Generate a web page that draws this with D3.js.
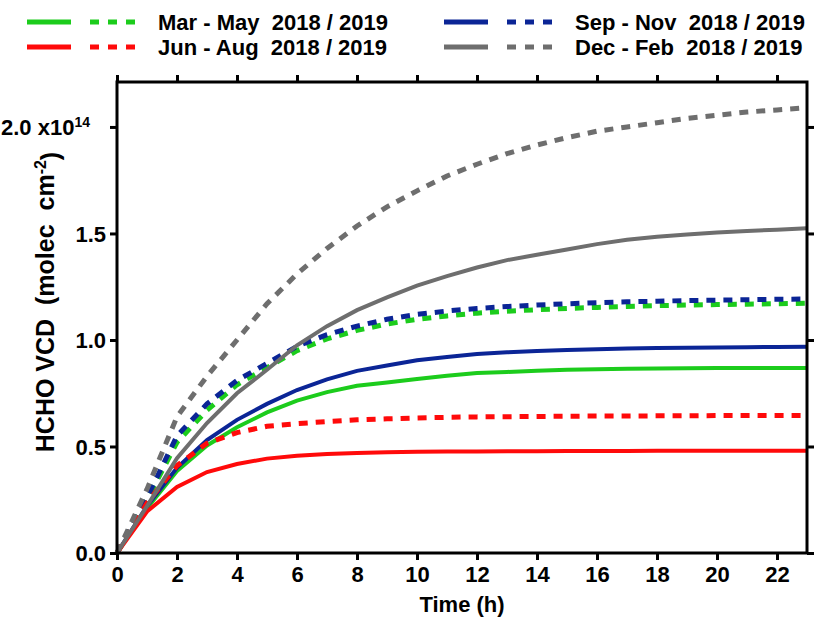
<!DOCTYPE html>
<meta charset="utf-8">
<head>
  <title>HCHO VCD diurnal build-up</title>
</head>
<style>
body { margin: 0; background: #fff; }
svg text { font-family: "Liberation Sans", Arial, sans-serif; font-weight: bold; fill: #000; white-space: pre; }
.domain { display: none; }
</style>
<body>
  <svg width="822" height="624"></svg>
  <script src="https://cdn.jsdelivr.net/npm/d3@7"></script>
  <script>
// hours after start
var hours = d3.range(0, 24);

// values in 1e14 molec cm-2
var marMay2018 = [0, 0.21, 0.385, 0.505, 0.59, 0.66, 0.715, 0.755, 0.785, 0.80, 0.817, 0.832, 0.845, 0.85, 0.855, 0.86, 0.863, 0.865, 0.866, 0.867, 0.868, 0.868, 0.869, 0.869];
var marMay2019 = [0, 0.25, 0.52, 0.67, 0.79, 0.87, 0.95, 1.005, 1.045, 1.075, 1.097, 1.113, 1.126, 1.135, 1.142, 1.148, 1.153, 1.157, 1.161, 1.164, 1.166, 1.168, 1.17, 1.172];
var junAug2018 = [0, 0.195, 0.31, 0.38, 0.418, 0.443, 0.457, 0.465, 0.47, 0.473, 0.475, 0.476, 0.477, 0.478, 0.478, 0.479, 0.479, 0.479, 0.48, 0.48, 0.48, 0.48, 0.48, 0.48];
var junAug2019 = [0, 0.235, 0.41, 0.515, 0.565, 0.595, 0.607, 0.617, 0.625, 0.63, 0.634, 0.637, 0.639, 0.64, 0.641, 0.642, 0.643, 0.643, 0.644, 0.644, 0.645, 0.645, 0.645, 0.645];
var sepNov2018 = [0, 0.22, 0.40, 0.53, 0.625, 0.70, 0.765, 0.815, 0.855, 0.88, 0.905, 0.92, 0.934, 0.942, 0.948, 0.953, 0.957, 0.96, 0.962, 0.964, 0.965, 0.966, 0.967, 0.968];
var sepNov2019 = [0, 0.26, 0.55, 0.70, 0.81, 0.89, 0.97, 1.025, 1.065, 1.097, 1.12, 1.136, 1.148, 1.157, 1.164, 1.17, 1.175, 1.179, 1.182, 1.185, 1.187, 1.189, 1.191, 1.192];
var decFeb2018 = [0, 0.22, 0.445, 0.61, 0.75, 0.86, 0.975, 1.065, 1.14, 1.20, 1.255, 1.30, 1.34, 1.375, 1.40, 1.425, 1.45, 1.47, 1.485, 1.495, 1.505, 1.512, 1.518, 1.525];
var decFeb2019 = [0, 0.30, 0.64, 0.83, 1.00, 1.17, 1.31, 1.43, 1.535, 1.625, 1.70, 1.77, 1.825, 1.875, 1.915, 1.95, 1.98, 2.00, 2.02, 2.04, 2.055, 2.07, 2.08, 2.09];

var seasons = ['Mar - May', 'Jun - Aug', 'Sep - Nov', 'Dec - Feb'];
var colors = ['#1ccc1c', '#ff0a0a', '#0b2596', '#6e6e6e'];

var xTicks = d3.range(0, 23, 2);
var yTicks = [0, 0.5, 1.0, 1.5, 2.0];

// draw order: solids first, then dashed, gray on top
var series = [
  { values: marMay2018, color: colors[0], dashed: false },
  { values: sepNov2018, color: colors[2], dashed: false },
  { values: junAug2018, color: colors[1], dashed: false },
  { values: marMay2019, color: colors[0], dashed: true },
  { values: sepNov2019, color: colors[2], dashed: true },
  { values: junAug2019, color: colors[1], dashed: true },
  { values: decFeb2018, color: colors[3], dashed: false },
  { values: decFeb2019, color: colors[3], dashed: true }
];

var plotL = 117, plotR = 807, plotT = 82, plotB = 553;

var x = d3.scaleLinear().domain([0, 23]).range([plotL, plotR]);
var y = d3.scaleLinear().domain([0, 2.211]).range([plotB, plotT]);

var svg = d3.select('svg');

var line = d3.line()
  .x(function(d, i) { return x(hours[i]); })
  .y(function(d) { return y(d); });

svg.append('g')
  .selectAll('path')
  .data(series)
  .enter()
  .append('path')
  .attr('d', function(d) { return line(d.values); })
  .attr('fill', 'none')
  .attr('stroke', function(d) { return d.color; })
  .attr('stroke-width', function(d) { return d.dashed ? 5 : 4; })
  .attr('stroke-dasharray', function(d) { return d.dashed ? '9,8' : null; });

// frame
svg.append('rect')
  .attr('x', plotL).attr('y', plotT)
  .attr('width', plotR - plotL).attr('height', plotB - plotT)
  .attr('fill', 'none').attr('stroke', '#000').attr('stroke-width', 3);

// axes
var gx = svg.append('g')
  .attr('transform', 'translate(0,' + plotB + ')')
  .call(d3.axisBottom(x).tickValues(xTicks).tickSize(7).tickPadding(6).tickFormat(d3.format('d')));
svg.append('g')
  .attr('transform', 'translate(0,' + plotT + ')')
  .call(d3.axisTop(x).tickValues(xTicks).tickSize(7).tickFormat(''));
var gy = svg.append('g')
  .attr('transform', 'translate(' + plotL + ',0)')
  .call(d3.axisLeft(y).tickValues(yTicks).tickSize(7).tickPadding(4).tickFormat(d3.format('.1f')));
svg.append('g')
  .attr('transform', 'translate(' + plotR + ',0)')
  .call(d3.axisRight(y).tickValues(yTicks).tickSize(7).tickFormat(''));

svg.selectAll('.tick line').attr('stroke', '#000').attr('stroke-width', 3);
gx.selectAll('.tick text').style('font-size', '22px');
gy.selectAll('.tick text').style('font-size', '22px').attr('dy', '0.35em');

// "2.0 x10^14" label
gy.selectAll('.tick text')
  .filter(function(d) { return d === 2.0; })
  .each(function() {
    var t = d3.select(this);
    t.text('2.0 x10');
    t.attr('dx', '-16');
    t.append('tspan').attr('dy', '-0.55em').style('font-size', '14px').text('14');
  });

// axis titles
svg.append('text')
  .attr('x', (plotL + plotR) / 2).attr('y', 612)
  .attr('text-anchor', 'middle')
  .style('font-size', '22px')
  .text('Time (h)');

var yt = svg.append('text')
  .attr('transform', 'translate(54,302) rotate(-90)')
  .attr('text-anchor', 'middle')
  .style('font-size', '25px');
yt.append('tspan').text('HCHO VCD  (molec  cm');
yt.append('tspan').attr('dy', '-0.5em').style('font-size', '16px').text('-2');
yt.append('tspan').attr('dy', '0.5em').text(')');

// legend
var legendItems = seasons.map(function(s, i) {
  return { label: s + '  2018 / 2019', color: colors[i], col: Math.floor(i / 2), row: i % 2 };
});
var lg = svg.append('g')
  .selectAll('g')
  .data(legendItems)
  .enter()
  .append('g')
  .attr('transform', function(d) { return 'translate(' + (d.col ? 444 : 27) + ',' + (d.row ? 47 : 22) + ')'; });
lg.append('line')
  .attr('x1', 0).attr('x2', 44)
  .attr('stroke', function(d) { return d.color; })
  .attr('stroke-width', 5);
lg.append('line')
  .attr('x1', 63).attr('x2', 108)
  .attr('stroke', function(d) { return d.color; })
  .attr('stroke-width', 5)
  .attr('stroke-dasharray', '9,9');
lg.append('text')
  .attr('x', 131).attr('dy', '0.36em')
  .style('font-size', '22px')
  .text(function(d) { return d.label; });
  </script>
</body>
</html>
